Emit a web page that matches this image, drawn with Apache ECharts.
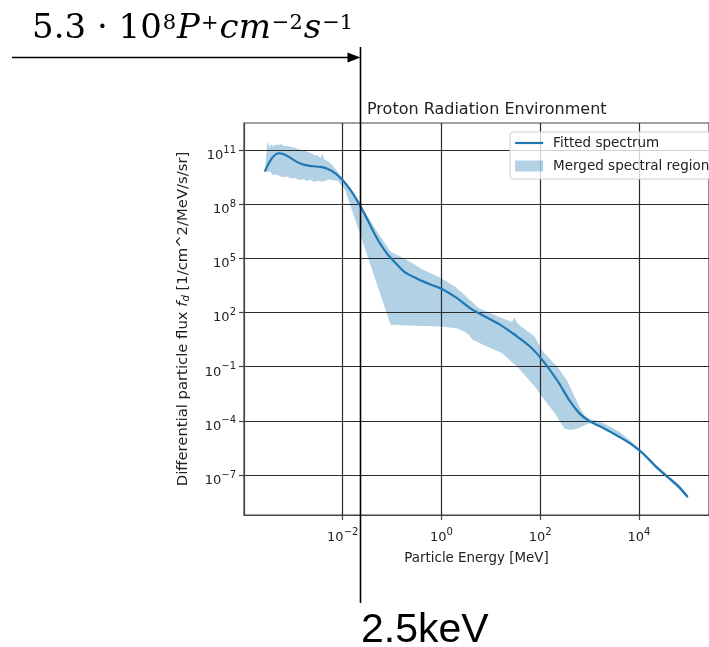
<!DOCTYPE html>
<html><head><meta charset="utf-8">
<script src="https://cdn.jsdelivr.net/npm/echarts@6/dist/echarts.min.js"></script>
<style>html,body{margin:0;padding:0;background:#fff}#c{width:709px;height:647px}</style>
</head><body><div id="c"></div>
<script>
// ---- Data: log10 values ----
// Fitted spectrum: log10(Energy / MeV) and log10(flux)
const lineLogE = [-3.58,-3.5,-3.42,-3.3,-3.18,-3.05,-2.9,-2.75,-2.6,-2.45,-2.3,-2.15,-2.0,-1.85,-1.7,-1.55,-1.4,-1.25,-1.1,-0.95,-0.75,-0.5,-0.25,0.0,0.3,0.6,0.9,1.2,1.5,1.8,2.05,2.35,2.6,2.8,3.0,3.3,3.6,3.85,4.1,4.35,4.6,4.8,4.99];
const lineLogF = [9.80,10.25,10.6,10.82,10.75,10.55,10.3,10.16,10.1,10.06,9.95,9.71,9.33,8.82,8.17,7.42,6.6,5.85,5.25,4.8,4.25,3.88,3.58,3.32,2.82,2.2,1.75,1.3,0.74,0.1,-0.65,-1.78,-2.9,-3.6,-4.02,-4.42,-4.88,-5.3,-5.85,-6.55,-7.15,-7.63,-8.22];
// Merged spectral region: upper edge
const bandUpperLogE = [-3.57,-3.54,-3.52,-3.49,-3.45,-3.4,-3.35,-3.3,-3.24,-3.18,-3.1,-3.02,-2.95,-2.88,-2.8,-2.72,-2.65,-2.58,-2.5,-2.45,-2.41,-2.38,-2.33,-2.27,-2.2,-2.12,-2.0,-1.85,-1.7,-1.55,-1.4,-1.25,-1.03,-0.76,-0.36,0.0,0.3,0.76,1.2,1.43,1.48,1.53,1.6,1.89,2.05,2.35,2.55,2.68,2.8,2.9,3.0,3.28,3.6,3.85,4.1,4.35,4.6,4.8,4.99];
const bandUpperLogF = [10.0,11.1,11.5,11.15,11.3,11.2,11.3,11.28,11.32,11.22,11.2,11.15,11.1,11.02,11.0,10.9,10.85,10.72,10.7,10.55,10.8,10.5,10.42,10.3,10.12,9.85,9.4,8.88,8.25,7.55,6.9,6.25,5.37,5.0,4.36,3.9,3.38,2.24,1.72,1.48,1.72,1.45,1.25,0.67,-0.15,-1.0,-1.8,-2.55,-3.25,-3.7,-3.88,-4.12,-4.6,-5.15,-5.75,-6.45,-7.05,-7.5,-8.12];
// Merged spectral region: lower edge
const bandLowerLogE = [-3.57,-3.53,-3.48,-3.41,-3.35,-3.28,-3.21,-3.12,-3.05,-2.97,-2.88,-2.8,-2.72,-2.65,-2.58,-2.5,-2.42,-2.35,-2.28,-2.2,-2.1,-1.95,-1.03,-0.5,0.0,0.3,0.46,0.56,0.63,0.9,1.23,1.56,1.89,2.09,2.29,2.49,2.6,2.7,2.82,2.95,3.05,3.3,3.6,3.85,4.1,4.35,4.6,4.8,4.99];
const bandLowerLogF = [9.95,9.75,9.82,9.6,9.65,9.55,9.5,9.52,9.42,9.45,9.34,9.38,9.28,9.35,9.22,9.3,9.24,9.3,9.36,9.32,9.3,8.79,1.32,1.26,1.22,1.13,0.95,0.76,0.49,0.15,-0.25,-1.08,-2.1,-2.84,-3.57,-4.42,-4.5,-4.48,-4.35,-4.18,-4.12,-4.48,-4.95,-5.35,-5.95,-6.65,-7.25,-7.75,-8.32];
// Tick exponents
const xTickExponents = [-2, 0, 2, 4];
const yTickExponents = [-7, -4, -1, 2, 5, 8, 11];
// Annotation (drawn-on overlay) position, log10(E/MeV)
const markerLogE = -1.64;

const chart = echarts.init(document.getElementById('c'), null, {renderer: 'canvas'});
const FONT = 'DejaVu Sans';
const TXT = '#222';
const bandColor = 'rgba(31,119,180,0.34)';
const lineColor = '#1f77b4';

function powLabel(v) {
  const e = Math.round(v);
  const s = e < 0 ? '\u2212' + (-e) : String(e);
  return '{b|10}{s|' + s + '}';
}
const tickRich = {
  b: {fontFamily: FONT, fontSize: 13, color: TXT, padding: [11, 0, 0, 0]},
  s: {fontFamily: FONT, fontSize: 10, color: TXT}
};

const lineData = lineLogE.map((e, i) => [e, lineLogF[i]]);

chart.setOption({
  animation: false,
  backgroundColor: '#fff',
  title: {
    text: 'Proton Radiation Environment',
    left: 362, top: 97,
    textStyle: {fontFamily: FONT, fontSize: 16, fontWeight: 'normal', color: TXT}
  },
  legend: {
    orient: 'vertical', left: 510, top: 132,
    itemWidth: 28, itemHeight: 11, itemGap: 7,
    padding: [3, 8, 5, 4],
    backgroundColor: 'rgba(255,255,255,0.8)', borderColor: '#d0d0d0', borderWidth: 1, borderRadius: 3,
    textStyle: {fontFamily: FONT, fontSize: 13.5, color: TXT, lineHeight: 16, padding: [0, 0, 0, 5]},
    data: [
      {name: 'Fitted spectrum', itemStyle: {opacity: 0}, lineStyle: {color: lineColor, width: 2.2, opacity: 1}},
      {name: 'Merged spectral region', icon: 'rect'}
    ]
  },
  grid: {left: 244, top: 123, width: 474, height: 392, show: true, borderColor: '#444', borderWidth: 1.2, containLabel: false},
  xAxis: {
    type: 'value', min: -4, max: 5.42, interval: 2,
    axisLine: {show: true, onZero: false, lineStyle: {color: '#444', width: 1.2}},
    axisTick: {show: true, customValues: xTickExponents, length: 5, lineStyle: {color: '#444', width: 1.2}},
    axisLabel: {customValues: xTickExponents, formatter: powLabel, rich: tickRich, margin: 5},
    splitLine: {show: true, lineStyle: {color: '#2a2a2a', width: 1.2}},
    name: 'Particle Energy [MeV]', nameLocation: 'middle', nameGap: 37,
    nameTextStyle: {fontFamily: FONT, fontSize: 13.4, color: TXT}
  },
  yAxis: {
    type: 'value', min: -9.214, max: 12.494,
    axisLine: {show: true, onZero: false, lineStyle: {color: '#444', width: 1.2}},
    axisTick: {show: true, customValues: yTickExponents, length: 5, lineStyle: {color: '#444', width: 1.2}},
    axisLabel: {customValues: yTickExponents, formatter: powLabel, rich: tickRich, margin: 8},
    splitLine: {show: true, lineStyle: {color: '#2a2a2a', width: 1.2}},
    name: '{n|Differential particle flux }{i|f}{d|d}{n| [1/cm^2/MeV/s/sr]}',
    nameLocation: 'middle', nameGap: 53,
    nameTextStyle: {
      fontFamily: FONT, fontSize: 14.8, color: TXT,
      rich: {
        n: {fontFamily: FONT, fontSize: 14.8, color: TXT},
        i: {fontFamily: FONT, fontSize: 14.8, fontStyle: 'italic', color: TXT},
        d: {fontFamily: FONT, fontSize: 10, fontStyle: 'italic', color: TXT, padding: [6, 0, 0, 0]}
      }
    }
  },
  series: [
    {
      name: 'Merged spectral region', type: 'custom', z: -1,
      itemStyle: {color: bandColor},
      data: [[bandUpperLogE[0], bandUpperLogF[0]]],
      renderItem: function (params, api) {
        const pts = [];
        for (let i = 0; i < bandUpperLogE.length; i++) pts.push(api.coord([bandUpperLogE[i], bandUpperLogF[i]]));
        for (let i = bandLowerLogE.length - 1; i >= 0; i--) pts.push(api.coord([bandLowerLogE[i], bandLowerLogF[i]]));
        return {type: 'polygon', shape: {points: pts}, style: {fill: bandColor}};
      }
    },
    {
      name: 'Fitted spectrum', type: 'line', data: lineData, smooth: 0.3,
      symbol: 'none', showSymbol: false, z: 3,
      lineStyle: {color: lineColor, width: 2.2}, itemStyle: {color: lineColor}
    }
  ]
});

// Overlay annotations (hand-drawn marks on the original figure)
const gx = Math.round(chart.convertToPixel({xAxisIndex: 0}, markerLogE)) + 0.5;
chart.setOption({
  graphic: [
    {
      type: 'text', left: 32, top: 12, z: 100,
      style: {
        text: '{n|5.3 \u00b7 10}{s|8}{i|P}{s|+}{i|cm}{s|\u22122}{i|s}{s|\u22121}',
        rich: {
          n: {fontFamily: 'DejaVu Serif', fontSize: 34, fill: '#000'},
          i: {fontFamily: 'DejaVu Serif', fontSize: 34, fontStyle: 'italic', fill: '#000'},
          s: {fontFamily: 'DejaVu Serif', fontSize: 21, fill: '#000', padding: [0, 1, 11, 1]}
        }
      }
    },
    {type: 'line', z: 100, shape: {x1: 12, y1: 57.5, x2: gx - 10, y2: 57.5}, style: {stroke: '#000', lineWidth: 1.5}},
    {type: 'polygon', z: 100, shape: {points: [[gx - 13, 52.5], [gx, 57.5], [gx - 13, 62.5]]}, style: {fill: '#000'}},
    {type: 'line', z: 100, shape: {x1: gx, y1: 47, x2: gx, y2: 603}, style: {stroke: '#000', lineWidth: 1.6}},
    {
      type: 'text', left: gx + 0.5, top: 610, z: 100,
      style: {text: '2.5keV', fontFamily: 'Liberation Sans', fontSize: 41, fill: '#000'}
    }
  ]
});
</script></body></html>
